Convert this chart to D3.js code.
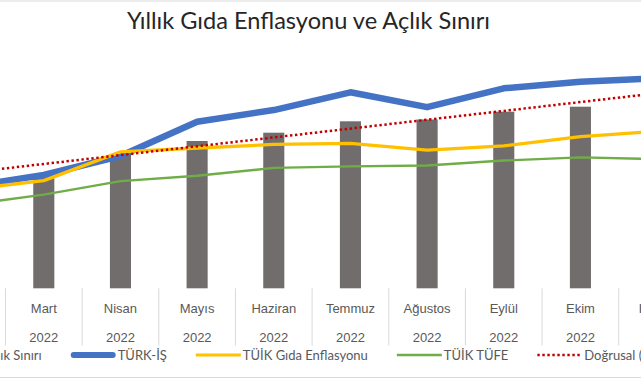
<!DOCTYPE html>
<html>
<head>
<meta charset="utf-8">
<script src="https://cdn.jsdelivr.net/npm/d3@7"></script>
<style>
  html, body { margin: 0; padding: 0; background: #fff; overflow: hidden; }
  svg { display: block; font-family: Lato, "Open Sans", sans-serif; }
</style>
</head>
<body>
<svg id="chart" width="641" height="380"></svg>
<script>
// ---- data ----
const months = ["Şubat", "Mart", "Nisan", "Mayıs", "Haziran", "Temmuz", "Ağustos", "Eylül", "Ekim", "Kasım"];
const years = ["2022", "2022", "2022", "2022", "2022", "2022", "2022", "2022", "2022", "2022"];
// Açlık Sınırı (TL, secondary axis, bars)
const aclikSiniri = [4300, 4665, 5441, 6012, 6351, 6816, 6890, 7208, 7412, 7750];
// Yıllık gıda enflasyonu, % (primary axis)
const turkIs = [66.2, 74.0, 86.4, 108.8, 116.4, 128.0, 118.3, 130.6, 134.9, 137.1];
const tuikGida = [64.47, 70.33, 89.10, 91.63, 93.93, 94.65, 90.25, 93.05, 99.05, 102.55];
const tuikTufe = [54.44, 61.14, 69.97, 73.50, 78.62, 79.60, 80.21, 83.45, 85.51, 84.39];
// Doğrusal (Açlık Sınırı) trend line, values at first and last category (TL)
const trendEnds = [4714, 7963];
const yTicks = [0, 20, 40, 60, 80, 100, 120, 140, 160];
const legendLabels = ["Açlık Sınırı", "TÜRK-İŞ", "TÜİK Gıda Enflasyonu", "TÜİK TÜFE", "Doğrusal (Açlık Sınırı)"];
const titleText = "Yıllık Gıda Enflasyonu ve Açlık Sınırı";

// ---- layout ----
const W = 641, H = 380;
const plotTop = 43.3, plotBottom = 288.3;
const step = 76.66, firstCenter = 43.8 - step; // Şubat centre (off-canvas)
const svg = d3.select("#chart");

const x = d3.scaleBand().domain(months)
  .range([firstCenter - step / 2, firstCenter - step / 2 + step * months.length])
  .padding(0);
const xc = m => x(m) + x.bandwidth() / 2;
const y = d3.scaleLinear().domain([0, 160]).range([plotBottom, plotTop]);
const y2 = d3.scaleLinear().domain([0, 10000]).range([plotBottom, plotTop]);

const colors = { bar: "#716d6c", blue: "#4472c4", yellow: "#ffc000", green: "#70ad47", trend: "#c00000", grid: "#d9d9d9", text: "#595959" };

// chart border lines (top / bottom visible)
svg.append("line").attr("x1", 0).attr("x2", W).attr("y1", 1).attr("y2", 1).attr("stroke", colors.grid);
svg.append("line").attr("x1", 0).attr("x2", W).attr("y1", 377.5).attr("y2", 377.5).attr("stroke", colors.grid);

// gridlines via axis
const yAxis = d3.axisLeft(y).tickValues(yTicks).tickSize(-W - 200).tickFormat("");
const gy = svg.append("g").attr("transform", `translate(${W + 100},0)`).call(yAxis);
gy.select(".domain").remove();
gy.selectAll(".tick line").attr("stroke", colors.grid).attr("stroke-width", 1);

// category axis (multi-level)
const xAxis = d3.axisBottom(x).tickSize(0).tickFormat("");
const gx = svg.append("g").attr("transform", `translate(0,${plotBottom})`).call(xAxis);
gx.select(".domain").remove();
// separators between categories
const sepG = svg.append("g");
months.forEach((m, i) => {
  sepG.append("line")
    .attr("x1", x(m)).attr("x2", x(m))
    .attr("y1", plotBottom).attr("y2", 345.5)
    .attr("stroke", colors.grid).attr("stroke-width", 1);
});
gx.selectAll(".tick").each(function (d, i) {
  const t = d3.select(this);
  t.append("text").attr("y", 313.5 - plotBottom).attr("text-anchor", "middle")
    .attr("fill", colors.text).attr("font-size", 13).text(d);
  t.append("text").attr("y", 342.5 - plotBottom).attr("text-anchor", "middle")
    .attr("fill", colors.text).attr("font-size", 13).text(years[i]);
});

// bars
const barW = x.bandwidth() * 0.275;
svg.append("g").selectAll("rect").data(months).join("rect")
  .attr("x", (m) => xc(m) - barW / 2)
  .attr("width", barW)
  .attr("y", (m, i) => y2(aclikSiniri[i]))
  .attr("height", (m, i) => plotBottom - y2(aclikSiniri[i]))
  .attr("fill", colors.bar);

// lines
function drawLine(values, color, width) {
  const line = d3.line().x((d, i) => xc(months[i])).y(d => y(d));
  svg.append("path").datum(values).attr("d", line)
    .attr("fill", "none").attr("stroke", color).attr("stroke-width", width)
    .attr("stroke-linejoin", "round").attr("stroke-linecap", "round");
}
drawLine(turkIs, colors.blue, 6.5);
drawLine(tuikGida, colors.yellow, 3.3);
drawLine(tuikTufe, colors.green, 2.4);

// trend line
svg.append("line")
  .attr("x1", xc(months[0])).attr("y1", y2(trendEnds[0]))
  .attr("x2", xc(months[months.length - 1])).attr("y2", y2(trendEnds[1]))
  .attr("stroke", colors.trend).attr("stroke-width", 2.5)
  .attr("stroke-dasharray", "2.4,2.6");

// title
const title = svg.append("text").attr("x", 308.5).attr("y", 28.5).attr("text-anchor", "middle")
  .attr("fill", "#262626").attr("font-size", 22).text(titleText);
const tw = title.node().getComputedTextLength();
title.attr("font-size", 22 * 363 / tw);

// legend
const legendY = 355;
const legG = svg.append("g");
const fs = 13;
const markerLen = 45, markerGap = 2, itemGap = 29;
function measure(t) {
  const n = legG.append("text").attr("font-size", fs).text(t);
  const w = n.node().getComputedTextLength(); n.remove(); return w;
}
// first item (Açlık Sınırı) ends just before TÜRK-İŞ marker
let cursor = 70.7;
{
  const w0 = measure(legendLabels[0]);
  const tx = cursor - itemGap - w0;
  legG.append("rect").attr("x", tx - 10).attr("y", legendY - 4).attr("width", 7).attr("height", 7).attr("fill", colors.bar);
  legG.append("text").attr("x", tx).attr("y", legendY + 4.5).attr("font-size", fs).attr("fill", colors.text).text(legendLabels[0]);
}
const legendStyles = [
  null,
  { color: colors.blue, width: 6, dash: null, cap: "round" },
  { color: colors.yellow, width: 3, dash: null, cap: "butt" },
  { color: colors.green, width: 2.4, dash: null, cap: "butt" },
  { color: colors.trend, width: 2.5, dash: "2.4,2.6", cap: "butt" }
];
for (let i = 1; i < legendLabels.length; i++) {
  const s = legendStyles[i];
  const l = legG.append("line").attr("x1", cursor + (s.cap === "round" ? 3 : 0)).attr("x2", cursor + markerLen - (s.cap === "round" ? 3 : 0))
    .attr("y1", legendY).attr("y2", legendY)
    .attr("stroke", s.color).attr("stroke-width", s.width).attr("stroke-linecap", s.cap);
  if (s.dash) l.attr("stroke-dasharray", s.dash);
  const t = legG.append("text").attr("x", cursor + markerLen + markerGap).attr("y", legendY + 4.5)
    .attr("font-size", fs).attr("fill", colors.text).text(legendLabels[i]);
  cursor = cursor + markerLen + markerGap + t.node().getComputedTextLength() + itemGap;
}
</script>
</body>
</html>
